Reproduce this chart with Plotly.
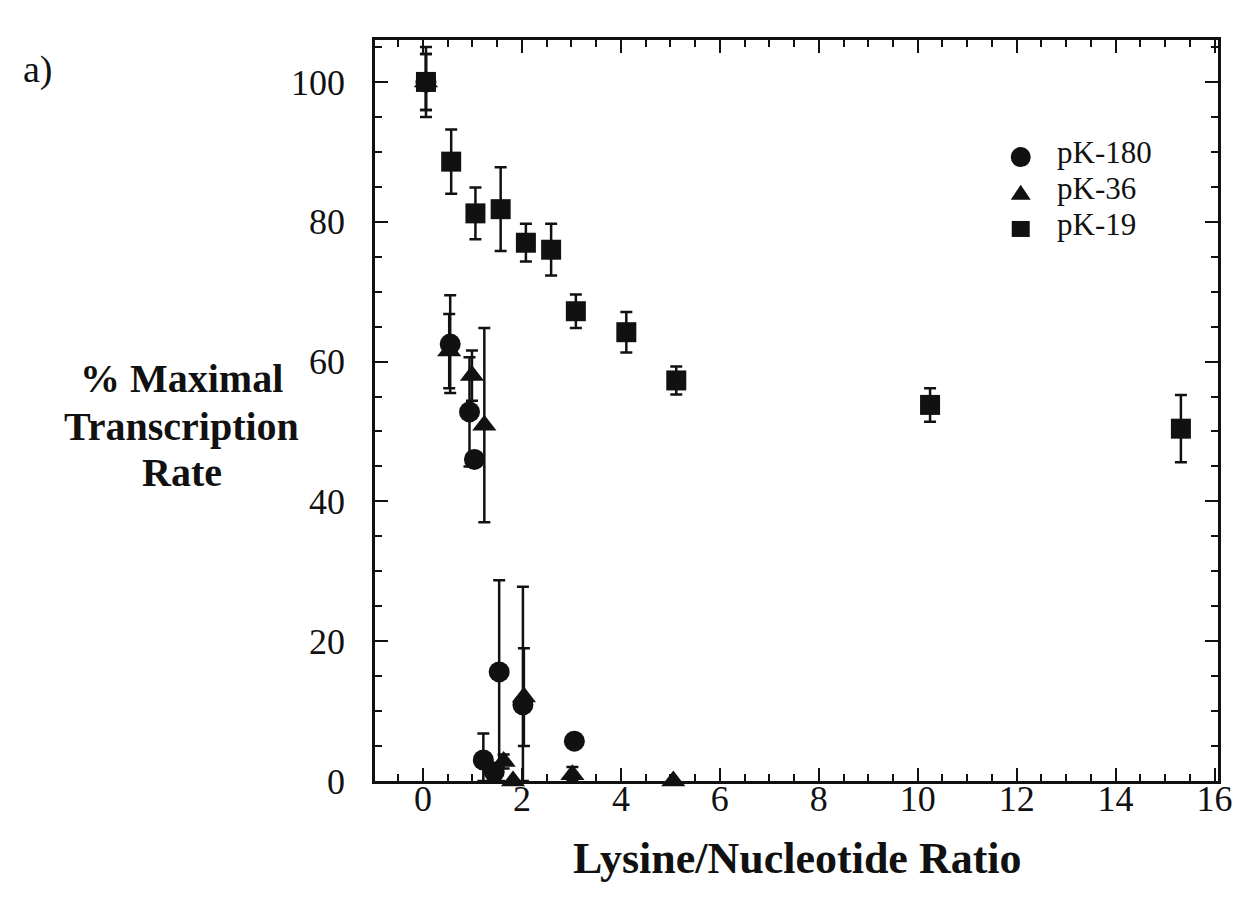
import plotly.graph_objects as go

# pK-19 (squares)
x19 = [0.06, 0.57, 1.06, 1.57, 2.08, 2.59, 3.09, 4.11, 5.12, 10.25, 15.32]
y19 = [100.0, 88.6, 81.2, 81.8, 77.0, 76.0, 67.2, 64.2, 57.3, 53.8, 50.4]
e19 = [5.0, 4.6, 3.7, 6.0, 2.7, 3.7, 2.4, 2.9, 2.0, 2.4, 4.8]

# pK-180 (circles)
x180 = [0.06, 0.55, 0.94, 1.04, 1.22, 1.44, 1.54, 2.02, 3.06]
y180 = [100.0, 62.5, 52.8, 46.0, 3.0, 1.3, 15.6, 10.9, 5.7]
e180_up = [4.0, 7.0, 7.8, 1.0, 3.8, 1.0, 13.1, 16.9, 0.0]
e180_dn = [4.0, 7.0, 7.8, 1.0, 3.0, 1.3, 15.6, 10.9, 0.0]

# pK-36 (triangles)
x36 = [0.06, 0.53, 0.99, 1.24, 1.63, 1.82, 2.04, 3.02, 5.06]
y36 = [100.0, 61.5, 58.0, 50.9, 2.8, 0.0, 12.0, 0.9, 0.0]
e36_up = [4.0, 5.3, 3.6, 13.9, 1.0, 0.0, 7.0, 1.1, 0.0]
e36_dn = [4.0, 5.3, 3.6, 13.9, 1.0, 0.0, 7.0, 0.9, 0.0]

series_names = ["pK-180", "pK-36", "pK-19"]
xticks = [0, 2, 4, 6, 8, 10, 12, 14, 16]
yticks = [0, 20, 40, 60, 80, 100]
ytitle_lines = ["% Maximal", "Transcription", "Rate"]

serif = "Liberation Serif, Times New Roman, serif"
black = "#111111"

fig = go.Figure()

def add(name, x, y, eu, ed, symbol, size):
    fig.add_trace(go.Scatter(
        x=x, y=y, mode="markers", name=name, showlegend=False,
        marker=dict(symbol=symbol, size=size, color=black, line=dict(width=0)),
        error_y=dict(type="data", symmetric=False, array=eu, arrayminus=ed,
                     color=black, thickness=2.5, width=6),
        cliponaxis=False,
    ))

add(series_names[0], x180, y180, e180_up, e180_dn, "circle", 21)
add(series_names[1], x36, y36, e36_up, e36_dn, "triangle-up", 21)
add(series_names[2], x19, y19, e19, e19, "square", 20)

fig.update_layout(
    width=1249, height=915,
    margin=dict(l=375, r=31, t=40, b=134),
    paper_bgcolor="white", plot_bgcolor="white",
    font=dict(family=serif, size=34, color=black),
    showlegend=False,
    xaxis=dict(
        range=[-0.97, 16.07], tickvals=xticks, ticktext=[str(v) for v in xticks],
        showline=True, linecolor=black, linewidth=2.5, mirror="ticks",
        ticks="inside", ticklen=13, tickwidth=2, tickcolor=black,
        minor=dict(dtick=0.5, tick0=0, ticks="inside", ticklen=7, tickwidth=2, tickcolor=black),
        showgrid=False, zeroline=False,
        tickfont=dict(size=36, family=serif),
        ticklabelstandoff=-16,
    ),
    yaxis=dict(
        range=[0, 106], tickvals=yticks, ticktext=[str(v) for v in yticks],
        showline=True, linecolor=black, linewidth=2.5, mirror="ticks",
        ticks="inside", ticklen=13, tickwidth=2, tickcolor=black,
        minor=dict(dtick=5, tick0=0, ticks="inside", ticklen=7, tickwidth=2, tickcolor=black),
        showgrid=False, zeroline=False,
        tickfont=dict(size=36, family=serif),
        ticklabelstandoff=20,
    ),
)

# axis titles
fig.add_annotation(text="<b>Lysine/Nucleotide Ratio</b>", xref="paper", yref="paper",
                   x=0.5006, y=-0.104, xanchor="center", yanchor="middle", showarrow=False,
                   font=dict(size=44, family=serif, color=black))
for line, py in zip(ytitle_lines, [0.543, 0.479, 0.417]):
    fig.add_annotation(text="<b>" + line + "</b>", xref="paper", yref="paper",
                       x=-0.229, y=py, xanchor="center", yanchor="middle", showarrow=False,
                       font=dict(size=40, family=serif, color=black))
fig.add_annotation(text="a)", xref="paper", yref="paper", x=-0.42, y=0.96,
                   xanchor="left", yanchor="middle", showarrow=False,
                   font=dict(size=38, family=serif, color=black))

# hand-drawn legend (paper coordinates, pixel-sized symbols)
leg_mx = 0.766
leg_tx = 0.808
leg_y = [0.842, 0.794, 0.745]
fig.add_shape(type="circle", xref="paper", yref="paper", xsizemode="pixel", ysizemode="pixel",
              xanchor=leg_mx, yanchor=leg_y[0], x0=-10, x1=10, y0=-10, y1=10,
              fillcolor=black, line=dict(width=0))
fig.add_shape(type="path", xref="paper", yref="paper", xsizemode="pixel", ysizemode="pixel",
              xanchor=leg_mx, yanchor=leg_y[1], path="M-10,-7 L10,-7 L0,8 Z",
              fillcolor=black, line=dict(width=0))
fig.add_shape(type="rect", xref="paper", yref="paper", xsizemode="pixel", ysizemode="pixel",
              xanchor=leg_mx, yanchor=leg_y[2], x0=-9, x1=9, y0=-8, y1=8,
              fillcolor=black, line=dict(width=0))
for name, py in zip(series_names, leg_y):
    fig.add_annotation(text=name, xref="paper", yref="paper", x=leg_tx, y=py + 0.006,
                       xanchor="left", yanchor="middle", showarrow=False, borderpad=0,
                       font=dict(size=31, family=serif, color=black))

fig.write_html("out.html")
